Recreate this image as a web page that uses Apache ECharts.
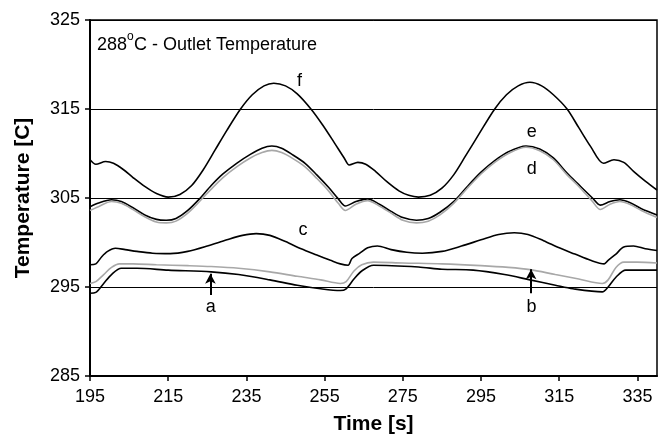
<!DOCTYPE html>
<html>
<head>
<meta charset="utf-8">
<script src="https://cdn.jsdelivr.net/npm/echarts@6/dist/echarts.min.js"></script>
<style>
  html, body { margin: 0; padding: 0; background: #fff; }
  #main { width: 659px; height: 437px; }
</style>
</head>
<body>
<div id="main"></div>
<script>
// tick labels
var xTicks = [195, 215, 235, 255, 275, 295, 315, 335];
var yTicks = [285, 295, 305, 315, 325];

// curves: [time s, temperature C]
var curveF = [[195, 309.3], [196.5, 308.8], [199, 309.1], [201, 308.9], [203.5, 308.2], [206, 307.3], [209, 306.3], [212, 305.5], [215, 305.1], [218, 305.4], [221, 306.4], [224, 308.2], [227, 310.4], [230, 312.6], [233.5, 315.0], [236.5, 316.6], [239.5, 317.6], [242, 317.9], [245, 317.6], [248, 316.7], [251.5, 315.0], [254.5, 313.2], [257.5, 311.2], [260, 309.5], [261.3, 308.7], [263.5, 309.0], [265.5, 308.8], [268, 308.0], [271, 306.8], [274, 305.8], [276.5, 305.3], [279, 305.1], [282, 305.3], [285, 306.1], [288, 307.6], [291, 309.7], [294.5, 312.2], [298.5, 315.0], [301.5, 316.6], [304.5, 317.6], [307.5, 318.0], [310.5, 317.6], [313.5, 316.6], [317, 315.0], [320, 312.9], [323, 310.8], [326.3, 308.9], [329, 309.3], [331.5, 309.0], [334, 308.0], [337, 306.9], [340, 305.9]];
var curveE = [[195, 304.0], [197, 304.4], [200.5, 304.8], [203, 304.6], [206, 303.9], [209, 303.1], [212, 302.6], [214.5, 302.5], [217, 302.7], [220, 303.6], [223, 304.9], [226, 306.4], [229, 307.7], [232.5, 308.9], [236, 309.9], [239, 310.6], [241.5, 310.85], [244, 310.6], [247, 309.8], [250, 308.9], [253, 307.6], [256, 306.2], [258.5, 304.9], [260.3, 304.1], [263, 304.6], [266, 304.9], [269, 304.3], [272, 303.5], [275, 302.8], [278.5, 302.5], [281.5, 302.7], [284.5, 303.4], [288, 304.6], [291.5, 306.3], [295, 307.9], [298.5, 309.2], [302, 310.2], [306.5, 310.85], [310, 310.5], [313.5, 309.5], [317, 307.8], [320, 306.5], [323.5, 305.0], [325.5, 304.2], [328, 304.6], [330.5, 304.8], [333, 304.5], [336, 303.8], [340, 303.1]];
var curveD = [[195, 303.6], [197, 304.0], [200.5, 304.6], [203, 304.4], [206, 303.7], [209, 302.9], [212, 302.3], [214.5, 302.2], [217, 302.4], [220, 303.3], [223, 304.6], [226, 306.0], [229, 307.3], [232.5, 308.5], [236, 309.5], [239, 310.1], [241.5, 310.35], [244, 310.1], [247, 309.4], [250, 308.5], [253, 307.2], [256, 305.8], [258.5, 304.4], [260.3, 303.6], [263, 304.3], [266, 304.7], [269, 304.1], [272, 303.3], [275, 302.5], [278.5, 302.2], [281.5, 302.4], [284.5, 303.1], [288, 304.4], [291.5, 306.1], [295, 307.7], [298.5, 309.0], [302, 310.0], [306.5, 310.7], [310, 310.3], [313.5, 309.3], [317, 307.6], [320, 306.3], [323.5, 304.6], [325.5, 303.7], [328, 304.3], [330.5, 304.6], [333, 304.3], [336, 303.6], [340, 302.8]];
var curveC = [[195, 297.5], [196.5, 297.6], [198, 298.4], [199.5, 299.0], [201.5, 299.35], [204, 299.2], [207, 299.0], [211, 298.8], [215.5, 298.75], [220, 299.0], [225, 299.6], [230, 300.3], [234, 300.8], [237.5, 301.0], [241, 300.8], [245, 300.1], [249, 299.3], [253, 298.6], [256.5, 298.0], [259, 297.6], [261, 297.45], [262, 298.2], [264, 298.8], [266, 299.4], [268.5, 299.6], [272, 299.2], [276, 298.9], [280, 298.8], [285, 299.0], [290, 299.6], [295, 300.3], [299.5, 300.9], [303.5, 301.1], [307, 300.9], [311, 300.2], [315, 299.4], [319, 298.7], [323, 298.0], [326.5, 297.6], [327.5, 298.0], [329.5, 298.7], [331.5, 299.5], [334, 299.6], [337, 299.3], [340, 299.1]];
var curveB = [[195, 295.4], [196.5, 295.6], [198.5, 296.4], [200.5, 297.2], [202.5, 297.6], [206, 297.6], [212, 297.5], [220, 297.4], [226, 297.3], [233, 297.1], [241, 296.7], [248, 296.2], [254, 295.8], [259, 295.4], [260.5, 295.6], [262.5, 296.8], [264.5, 297.5], [267.5, 297.8], [275, 297.7], [285, 297.6], [295, 297.4], [302, 297.2], [307.5, 296.95], [314, 296.4], [320, 295.9], [326, 295.4], [327.5, 295.8], [329.5, 297.2], [331.5, 297.8], [335, 297.8], [340, 297.7]];
var curveA = [[195, 294.3], [196.5, 294.4], [198.5, 295.4], [200.5, 296.4], [203, 297.1], [207, 297.1], [215, 296.9], [226, 296.7], [233, 296.4], [241, 295.8], [248, 295.2], [254, 294.8], [259, 294.6], [260.5, 294.8], [262.5, 295.9], [264.5, 296.8], [267.5, 297.45], [279, 297.25], [285, 297.0], [293, 296.9], [301, 296.4], [307.5, 295.8], [314, 295.2], [318.5, 294.8], [326, 294.45], [327.5, 295.0], [329.5, 296.1], [332, 296.9], [336, 296.9], [340, 296.9]];

// curve letters and arrows
var notes = [['f', 248.6, 318.1], ['e', 308, 312.4], ['d', 308, 308.3], ['c', 249.5, 301.4], ['a', 225.9, 292.8], ['b', 307.9, 292.8]];
var arrowA = [[225.8, 294.1], [225.8, 296.5]];
var arrowB = [[307.8, 294.3], [307.8, 297.0]];

var FONT = 'Liberation Sans, Arial, sans-serif';

function curve(data, color) {
  return {
    type: 'line',
    data: data,
    showSymbol: false,
    smooth: 0.3,
    lineStyle: { color: color, width: 1.6 },
    silent: true
  };
}

function arrow(pts) {
  return [{ coord: pts[0] }, { coord: pts[1] }];
}

var seriesA = curve(curveA, '#000');
seriesA.markLine = {
  silent: true,
  symbol: ['none', 'arrow'],
  symbolSize: [8, 10],
  label: { show: false },
  lineStyle: { color: '#000', width: 2, type: 'solid' },
  data: [arrow(arrowA), arrow(arrowB)]
};

var myChart = echarts.init(document.getElementById('main'));
myChart.setOption({
  animation: false,
  textStyle: { fontFamily: FONT },
  grid: {
    left: 90, right: 2, top: 20, bottom: 61,
    outerBoundsMode: 'none',
    show: true, borderColor: '#000', borderWidth: 1.5
  },
  xAxis: {
    type: 'value',
    min: 195, max: 340,
    name: 'Time [s]',
    nameLocation: 'middle',
    nameGap: 38,
    nameTextStyle: { fontSize: 21, fontWeight: 'bold', color: '#000', fontFamily: FONT },
    axisLine: { lineStyle: { color: '#000', width: 2 } },
    axisTick: { customValues: xTicks, length: 5, lineStyle: { color: '#000', width: 1.5 } },
    axisLabel: { customValues: xTicks, margin: 12, fontSize: 18, color: '#000', fontFamily: FONT },
    splitLine: { show: false }
  },
  yAxis: {
    type: 'value',
    min: 285, max: 325,
    name: 'Temperature [C]',
    nameLocation: 'middle',
    nameGap: 56,
    nameTextStyle: { fontSize: 21, fontWeight: 'bold', color: '#000', fontFamily: FONT },
    axisLine: { show: true, lineStyle: { color: '#000', width: 2 } },
    axisTick: { show: true, customValues: yTicks, length: 5, lineStyle: { color: '#000', width: 1.5 } },
    axisLabel: { customValues: yTicks, margin: 10, fontSize: 18, color: '#000', fontFamily: FONT },
    splitLine: { show: true, lineStyle: { color: '#000', width: 1 } }
  },
  series: [
    curve(curveF, '#000'),
    curve(curveE, '#000'),
    curve(curveD, '#a8a8a8'),
    curve(curveC, '#000'),
    curve(curveB, '#a8a8a8'),
    seriesA,
    {
      type: 'scatter',
      symbolSize: 0,
      silent: true,
      itemStyle: { opacity: 1 },
      data: notes.map(function (n) { return { name: n[0], value: [n[1], n[2]] }; }),
      label: {
        show: true, position: 'inside', formatter: '{b}', opacity: 1,
        fontSize: 18, color: '#000', fontFamily: FONT
      }
    }
  ],
  graphic: [
    { type: 'text', left: 97, top: 36, style: { text: '288', fill: '#000', font: '18px ' + FONT } },
    { type: 'text', left: 127, top: 31, style: { text: 'o', fill: '#000', font: '12px ' + FONT } },
    { type: 'text', left: 134, top: 36, style: { text: 'C - Outlet Temperature', fill: '#000', font: '18px ' + FONT } }
  ]
});
</script>
</body>
</html>
